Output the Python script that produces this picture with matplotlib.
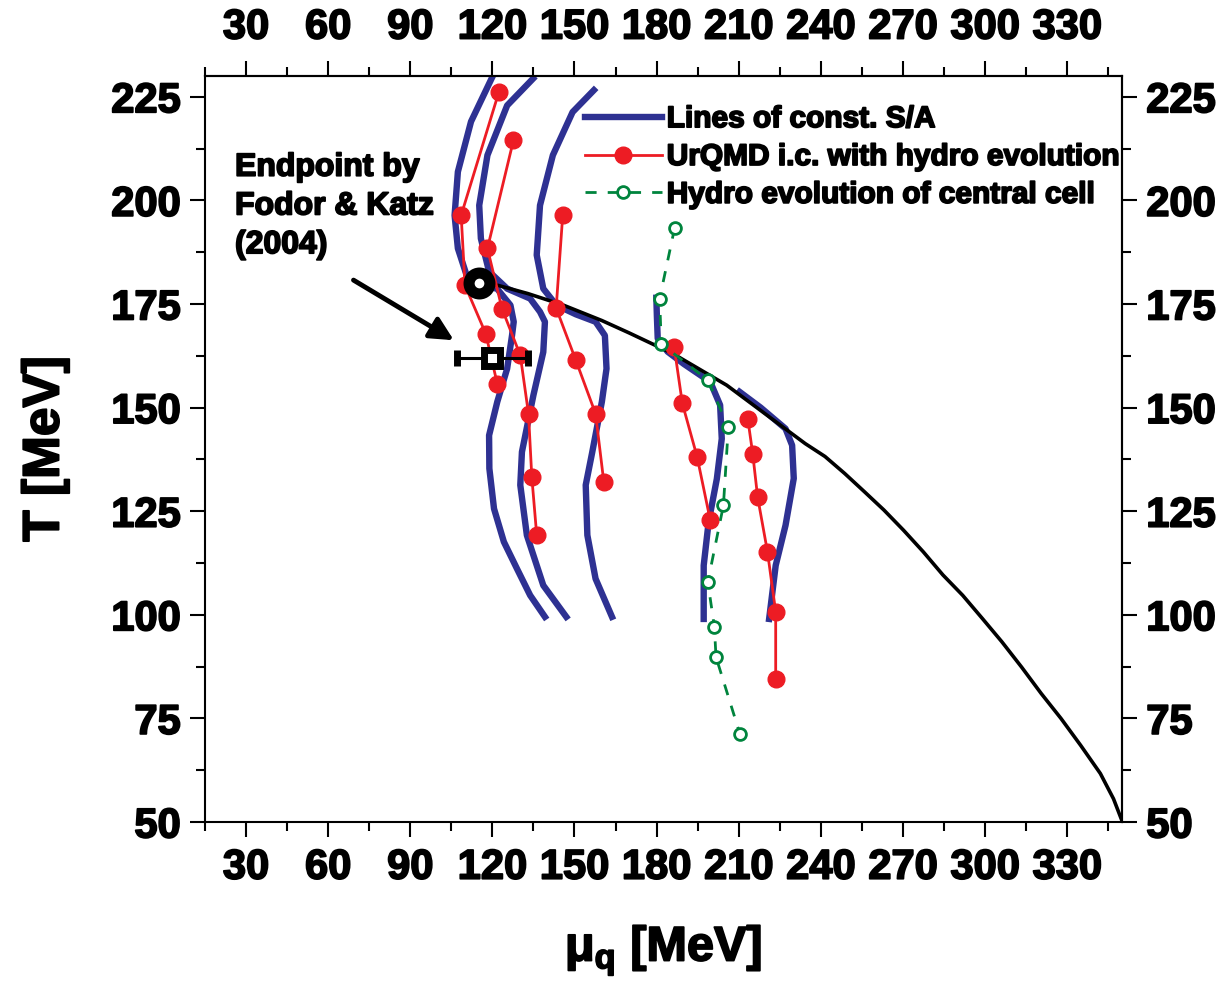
import numpy as np
import matplotlib.pyplot as plt
import matplotlib.patheffects as pe

plt.rcParams['font.family'] = ['Liberation Sans', 'DejaVu Sans']
plt.rcParams['font.weight'] = 'bold'
plt.rcParams['mathtext.fontset'] = 'custom'
plt.rcParams['mathtext.rm'] = 'Liberation Sans:bold'
plt.rcParams['mathtext.it'] = 'Liberation Sans:bold'
plt.rcParams['mathtext.bf'] = 'Liberation Sans:bold'

# phase boundary (black line), mu_q / T in MeV
pb_mu = [115, 122, 133, 146, 160, 170, 186, 205.6, 223.5, 234.3, 241.5, 248.7, 255.9, 263.0, 270.2,
         277.4, 284.6, 291.8, 299.0, 306.1, 313.3, 320.5, 327.7, 334.9, 342.1, 346.9, 350]
pb_T  = [180, 179.5, 177.5, 174.7, 171, 168, 163, 155.4, 146.6, 141.3, 138.2, 134.1, 129.7, 125.3, 120.4,
         115.2, 109.6, 104.7, 99.1, 93.5, 87.4, 81.0, 75.0, 68.5, 61.7, 55.6, 50.3]

# lines of constant S/A (blue)
sa1_mu = [120, 112.2, 107.4, 106.2, 107.4, 111, 115, 121.7, 126.6, 127.8, 127.2, 125.4, 121.8, 118.8, 118.9, 120.6, 124.2, 129, 133.8, 139.2]
sa1_T  = [229.8, 219, 206.9, 196.4, 188.4, 181.1, 179.5, 178.7, 174.7, 170.7, 167.5, 159.4, 151.4, 143.3, 135.3, 125.6, 117.6, 111.1, 104.7, 99.5]
sa2_mu = [134.9, 125.4, 118.2, 115.2, 115.8, 118.8, 125.4, 133.8, 137.4, 139.2, 138.6, 135, 130.8, 130.2, 132.6, 138.6, 147]
sa2_T  = [229.4, 222.9, 210.9, 198.8, 190.8, 182.8, 178.7, 176.3, 173.1, 170.7, 163.4, 153, 139.3, 131.3, 119.2, 107.1, 99.5]
sa3_mu = [157.1, 149.3, 142.1, 137.4, 136.2, 138.6, 143.4, 150.5, 157.7, 161.1, 161.7, 160, 156.5, 154.1, 154.7, 157.7, 163.7]
sa3_T  = [226.6, 221.3, 210.9, 198.8, 186.8, 178.7, 174.7, 172.5, 170.7, 167.4, 159.4, 151.4, 139.3, 131.3, 119.2, 108.7, 99.5]
sa4_mu = [179.9, 180.1, 180.4, 184, 190, 199.6, 203.2, 203.8, 202, 199, 197.2, 197.2]
sa4_T  = [176.5, 172, 166.7, 163.5, 160.5, 156.2, 150.6, 142.5, 132.8, 122.4, 111.9, 99]
sa5_mu = [210.3, 218, 227.1, 229.5, 230.1, 227.1, 223.5, 221.1]
sa5_T  = [153.8, 150, 144.9, 140.9, 132.9, 121.6, 111.9, 99]

# UrQMD initial conditions + hydro evolution (red)
u1_mu = [122.4, 108.6, 110, 117.6, 121.8]
u1_T  = [226.2, 196.4, 179.5, 167.8, 155.7]
u2_mu = [127.7, 118.2, 123.5, 130.2, 133.2, 134.4, 136.2]
u2_T  = [214.5, 188.4, 173.9, 162.6, 148.5, 133.3, 119.2]
u3_mu = [145.7, 143.3, 150.5, 157.7, 160.7]
u3_T  = [196.4, 174.0, 161.4, 148.5, 132.1]
u4_mu = [186.4, 189.4, 194.8, 199.6]
u4_T  = [164.7, 151.0, 138.1, 122.8]
u5_mu = [213.3, 215.1, 216.9, 220.5, 223.5, 223.5]
u5_T  = [147.3, 138.9, 128.4, 115.2, 100.7, 84.6]

# hydro evolution of central cell (green)
cc_mu = [186.6, 181.1, 181.7, 198.7, 206.2, 204.4, 198.7, 201.1, 201.7, 210.4]
cc_T  = [193.4, 176.3, 165.4, 156.6, 145.3, 126.4, 107.9, 97.1, 89.8, 71.3]

# critical endpoints
ep_model = (115, 180)
ep_fk = (120, 162)
ep_fk_err = 13

xticks = np.arange(30, 331, 30)
yticks = np.arange(50, 226, 25)

blue = '#2e3192'
red = '#ed1c24'
green = '#00843d'
heavy = [pe.withStroke(linewidth=1.3, foreground='black')]

fig = plt.figure(figsize=(12.25, 9.9), dpi=100)
ax = fig.add_axes([0.1673, 0.1697, 0.7486, 0.7535])

sa = [(sa1_mu, sa1_T), (sa2_mu, sa2_T), (sa3_mu, sa3_T), (sa4_mu, sa4_T), (sa5_mu, sa5_T)]
for i, (m, t) in enumerate(sa):
    ax.plot(m, t, color=blue, lw=4.6, solid_joinstyle='round', zorder=2,
            label='Lines of const. S/A' if i == 0 else None)

ax.plot(pb_mu, pb_T, color='black', lw=2.6, zorder=3)

ur = [(u1_mu, u1_T), (u2_mu, u2_T), (u3_mu, u3_T), (u4_mu, u4_T), (u5_mu, u5_T)]
for i, (m, t) in enumerate(ur):
    ax.plot(m, t, color=red, lw=2.0, marker='o', ms=12, mec=red, zorder=4,
            label='UrQMD i.c. with hydro evolution' if i == 0 else None)

ax.plot(cc_mu, cc_T, color=green, lw=2.0, dashes=(4, 4), marker='o', ms=8.5,
        mfc='white', mec=green, mew=2.0, zorder=4,
        label='Hydro evolution of central cell')

ax.plot(*ep_model, marker='o', ms=15, mfc='white', mec='black', mew=8, zorder=6)
ax.errorbar(ep_fk[0], ep_fk[1], xerr=ep_fk_err, fmt='s', ms=11, mfc='white',
            mec='black', mew=5, ecolor='black', elinewidth=2.2, capsize=6,
            capthick=2.2, zorder=6)

ax.annotate('', xy=(106.8, 165.9), xytext=(68.4, 181.1),
            arrowprops=dict(arrowstyle='-|>', lw=3.5, color='black', mutation_scale=35))
ax.text(26, 211.5, 'Endpoint by\nFodor & Katz\n(2004)', fontsize=23, fontweight='bold',
        va='top', ha='left', linespacing=1.38, path_effects=heavy)

ax.set_xlim(20, 350)
ax.set_ylim(50, 230)
ax.set_xticks(xticks)
ax.set_xticks(np.arange(15, 350, 15), minor=True)
ax.set_yticks(yticks)
ax.set_yticks(np.arange(50, 230, 12.5), minor=True)

top = ax.secondary_xaxis('top')
top.set_xticks(xticks)
top.set_xticks(np.arange(15, 350, 15), minor=True)
right = ax.secondary_yaxis('right')
right.set_yticks(yticks)
right.set_yticks(np.arange(50, 230, 12.5), minor=True)

for a in (ax, top, right):
    a.tick_params(which='both', direction='out', labelsize=30, width=1.5, pad=7)
    a.tick_params(which='major', length=10.5)
    a.tick_params(which='minor', length=6.5)
    for s in a.spines.values():
        s.set_linewidth(1.5)
    for lab in a.get_xticklabels() + a.get_yticklabels():
        lab.set_path_effects(heavy)
ax.tick_params(axis='x', pad=8)
top.tick_params(axis='x', pad=10)

ax.set_xlabel(r'$\mu_q$ [MeV]', fontsize=35, fontweight='bold', labelpad=26,
              path_effects=heavy)
ax.set_ylabel('T [MeV]', fontsize=37, fontweight='bold', labelpad=30,
              path_effects=heavy)

leg = ax.legend(loc='upper left', bbox_to_anchor=(0.414, 0.961), frameon=False,
                fontsize=21.5, handlelength=2.6, handletextpad=0.15, labelspacing=0.33,
                borderpad=0, borderaxespad=0, numpoints=1)
for t in leg.get_texts():
    t.set_path_effects(heavy)

fig.savefig('out.png', dpi=100)
